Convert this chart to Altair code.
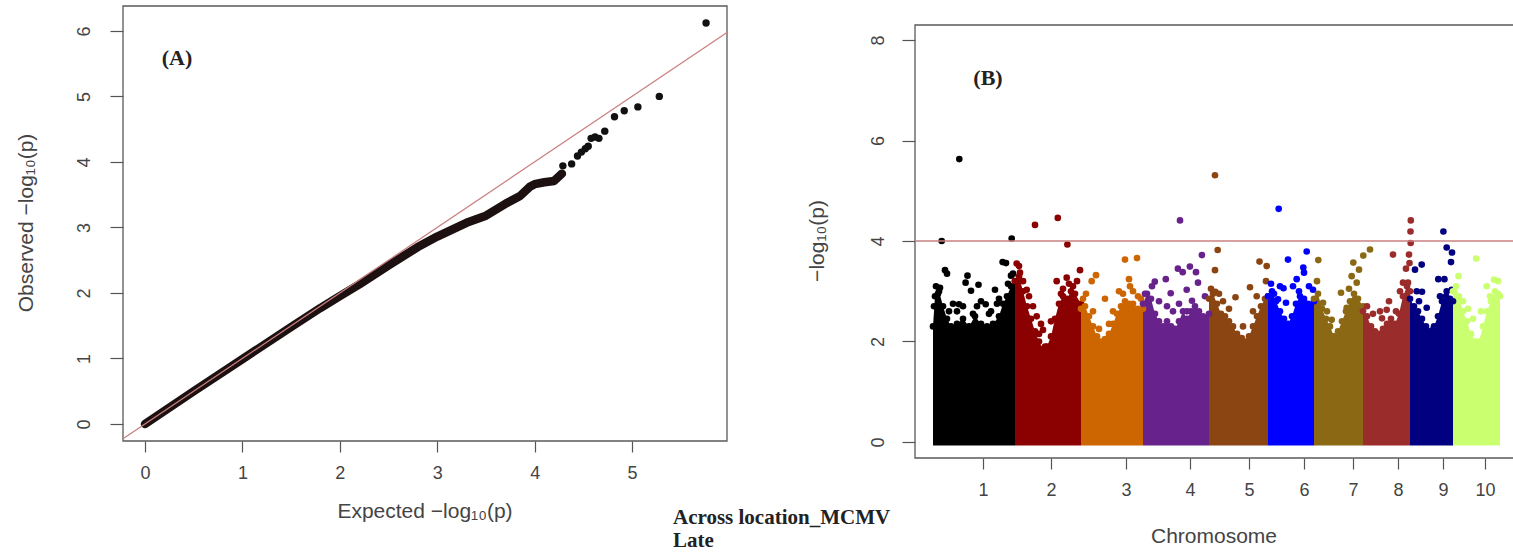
import altair as alt
import pandas as pd

# ---------------- QQ plot (A) ----------------
qq_band_expected = [0, 0.5, 1.0, 1.5, 1.8, 2.0, 2.2, 2.5, 2.8, 3.0, 3.3, 3.5, 3.7, 3.85, 3.95, 4.0, 4.1, 4.2, 4.28]
qq_band_observed = [0, 0.5, 0.99, 1.48, 1.77, 1.95, 2.13, 2.42, 2.7, 2.86, 3.07, 3.18, 3.36, 3.48, 3.62, 3.66, 3.69, 3.71, 3.82]
qq_tail_expected = [4.29, 4.38, 4.44, 4.48, 4.52, 4.55, 4.58, 4.62, 4.66, 4.72, 4.82, 4.92, 5.06, 5.28, 5.76]
qq_tail_observed = [3.94, 3.97, 4.09, 4.15, 4.2, 4.24, 4.36, 4.38, 4.36, 4.47, 4.69, 4.78, 4.84, 5.00, 6.12]
qq_x_ticks = [0, 1, 2, 3, 4, 5]
qq_y_ticks = [0, 1, 2, 3, 4, 5, 6]

# ---------------- Manhattan plot (B) ----------------
chrom_names = ['1', '2', '3', '4', '5', '6', '7', '8', '9', '10']
chrom_colors = ['#000000', '#8B0000', '#CD6600', '#68228B', '#8B4513',
                '#0000FF', '#8B6914', '#9B2C2C', '#000080', '#CAFF70']
chrom_ticks = [50, 118, 193, 257, 316, 371, 420, 465, 510, 552]
mh_y_ticks = [0, 2, 4, 6, 8]
threshold = 4.0

chr1_profile = [(0, 2.3), (2, 2.9), (6, 3.0), (10, 2.7), (14, 2.45), (18, 2.3), (24, 2.35), (30, 2.45), (36, 2.3),
                (42, 2.5), (48, 2.35), (54, 2.3), (60, 2.35), (66, 2.5), (70, 2.75), (74, 2.9), (78, 3.1), (82, 3.2)]
chr1_hits = [(8.7, 4.0), (26.3, 5.63), (78.7, 4.05), (12, 3.42), (14, 3.35), (34.5, 3.31), (32.6, 3.17), (45.5, 3.13),
             (38, 3.01), (52.7, 2.74), (69.6, 3.58), (73, 3.56), (78, 3.31), (62, 3.03), (26, 2.74), (24, 2.6), (7, 3.07),
             (5, 2.95), (20, 2.75), (56, 2.55), (64, 2.75), (80, 3.35), (3, 3.1), (44, 2.7), (58, 2.6),
             (16, 2.6), (30, 2.7), (40, 2.55), (48, 2.8), (66, 2.85), (75, 3.15), (1, 2.7)]
chr2_profile = [(82, 3.2), (86, 3.3), (90, 3.0), (94, 2.7), (98, 2.45), (102, 2.2), (106, 2.0), (110, 1.85), (114, 1.9),
                (118, 2.1), (122, 2.45), (126, 2.75), (130, 2.9), (134, 2.85), (138, 3.0), (142, 2.95), (148, 2.75)]
chr2_hits = [(102, 4.32), (124.8, 4.46), (134.4, 3.93), (83.7, 3.55), (86, 3.5), (87, 3.37), (93.7, 3.03), (96, 2.9),
             (100, 2.7), (103.7, 2.5), (110, 2.23), (112, 1.9), (120, 1.77), (116, 1.65), (123.7, 3.2), (133.7, 3.27),
             (140, 3.1), (147, 3.42), (128, 2.95), (136, 3.15), (108, 2.35), (118, 2.4), (90, 3.2), (106, 2.15),
             (130, 3.05), (144, 3.2)]
chr3_profile = [(148, 2.65), (152, 2.7), (156, 2.5), (160, 2.3), (164, 2.1), (168, 2.0), (172, 2.05), (176, 2.15),
                (180, 2.35), (184, 2.55), (188, 2.7), (192, 2.8), (196, 2.75), (200, 2.75), (205, 2.65), (210, 2.65)]
chr3_hits = [(163, 3.32), (172, 2.85), (192, 3.63), (204, 3.66), (196, 3.24), (197, 3.1), (168, 1.93), (170, 1.47),
             (180, 2.6), (158.7, 3.2), (186, 3.0), (200, 3.0), (205, 2.9), (153, 2.95), (176, 2.35), (160, 2.6),
             (150, 2.85), (166, 2.25), (190, 2.95), (208, 2.85)]
chr4_profile = [(210, 2.75), (214, 2.95), (218, 2.85), (222, 2.55), (226, 2.4), (230, 2.3), (234, 2.4), (238, 2.3),
                (242, 2.25), (246, 2.4), (250, 2.6), (254, 2.45), (258, 2.6), (262, 2.7), (266, 2.6), (270, 2.5), (276, 2.55)]
chr4_hits = [(247, 4.41), (268.9, 3.72), (221.8, 3.19), (232.8, 3.24), (244.9, 3.45), (249.7, 3.38), (256.9, 3.49),
             (263, 3.38), (265, 3.17), (237.7, 2.96), (240, 2.6), (259, 2.81), (254, 2.6), (239, 1.75), (240, 1.6),
             (228, 1.97), (219, 3.1), (253.7, 3.03), (226, 2.8), (272, 2.9), (212, 2.95), (234, 2.7), (246, 2.75)]
chr5_profile = [(276, 2.85), (280, 2.95), (284, 2.75), (288, 2.55), (292, 2.5), (296, 2.4), (300, 2.3), (304, 2.15),
                (308, 2.05), (312, 2.0), (316, 2.1), (320, 2.3), (324, 2.5), (328, 2.7), (332, 2.85), (335, 2.9)]
chr5_hits = [(282, 5.31), (284.7, 3.82), (282, 3.42), (282.3, 2.99), (302.5, 2.88), (317, 3.08), (326.5, 3.59),
             (333.7, 3.5), (314.5, 1.47), (308.7, 2.07), (323.7, 2.9), (333, 3.2), (290, 2.8), (296, 2.65), (310, 2.3),
             (278, 3.05), (286, 2.95), (320, 2.6)]
chr6_profile = [(335, 2.9), (339, 3.0), (343, 2.8), (347, 2.6), (351, 2.45), (355, 2.35), (359, 2.5), (363, 2.75),
                (367, 2.9), (371, 2.85), (375, 2.75), (381, 2.8)]
chr6_hits = [(345.7, 4.64), (355, 3.63), (373.7, 3.79), (370.3, 3.47), (371, 3.37), (363.7, 3.24), (360, 3.1),
             (347, 3.1), (350.5, 3.06), (380, 3.03), (353, 2.77), (355, 2.04), (345, 2.84), (338, 3.15), (376, 3.1),
             (366, 3.0), (341, 2.95)]
chr7_profile = [(381, 2.85), (385, 2.95), (389, 2.65), (393, 2.45), (397, 2.3), (401, 2.1), (405, 2.2), (409, 2.4),
                (413, 2.6), (417, 2.8), (421, 2.95), (425, 2.85), (430, 2.7)]
chr7_hits = [(385.3, 3.62), (420.3, 3.57), (430.3, 3.71), (437, 3.83), (418.7, 3.3), (423.7, 3.17), (408, 2.97),
             (413.7, 2.67), (390, 2.77), (398.7, 2.43), (400, 2.1), (400, 1.77), (398.5, 1.6), (384, 3.2), (426, 3.43),
             (394, 2.6), (416, 3.05)]
chr8_profile = [(430, 2.6), (434, 2.5), (438, 2.3), (442, 2.2), (446, 2.15), (450, 2.25), (454, 2.35), (458, 2.45),
                (462, 2.35), (466, 2.55), (470, 2.9), (474, 3.1), (477, 3.0)]
chr8_hits = [(477.8, 4.41), (477.5, 4.19), (477.7, 3.96), (476, 3.73), (476.5, 3.56), (473, 3.45), (475, 3.17),
             (460, 3.73), (447, 2.6), (453.7, 2.63), (467, 3.0), (470, 3.17), (449, 2.46), (440, 2.55), (456, 2.8),
             (434, 2.7), (463, 2.6)]
chr9_profile = [(477, 2.85), (481, 2.7), (485, 2.6), (489, 2.45), (493, 2.3), (497, 2.2), (501, 2.3), (505, 2.5),
                (509, 2.8), (513, 2.9), (517, 2.85), (520, 2.8)]
chr9_hits = [(510.4, 4.19), (513.7, 3.87), (519, 3.77), (518, 3.58), (488.7, 3.53), (482, 3.43), (505.3, 3.24),
             (511.4, 3.24), (518.7, 3.03), (513.7, 3.0), (483.7, 3.0), (489, 2.99), (493.7, 2.67), (500, 2.23),
             (499.4, 2.04), (486, 2.8), (507, 2.9)]
chr10_profile = [(520, 3.0), (523, 3.1), (526, 2.9), (530, 2.6), (534, 2.4), (538, 2.15), (542, 2.0), (546, 2.0),
                 (550, 2.3), (554, 2.6), (558, 2.8), (562, 3.0), (565, 2.95), (567, 2.9)]
chr10_hits = [(543.2, 3.65), (561, 3.23), (525.5, 3.3), (553.7, 3.1), (557, 2.9), (565, 3.2), (530, 2.8),
              (548, 2.6), (540, 2.45), (535, 2.65)]

profiles = [chr1_profile, chr2_profile, chr3_profile, chr4_profile, chr5_profile,
            chr6_profile, chr7_profile, chr8_profile, chr9_profile, chr10_profile]
hits = [chr1_hits, chr2_hits, chr3_hits, chr4_hits, chr5_hits,
        chr6_hits, chr7_hits, chr8_hits, chr9_hits, chr10_hits]

# texts
label_a = "(A)"
label_b = "(B)"
qq_xtitle = "Expected  \u2212log\u2081\u2080(p)"
qq_ytitle = "Observed  \u2212log\u2081\u2080(p)"
mh_xtitle = "Chromosome"
mh_ytitle = "\u2212log\u2081\u2080(p)"
caption1 = "Across location_MCMV"
caption2 = "Late"

# ---------------- scales (domain -> pixel range) ----------------
QQ_X = alt.Scale(domain=[-0.226, 5.975], range=[123, 727], nice=False, zero=False)
QQ_Y = alt.Scale(domain=[-0.26, 6.38], range=[441, 6], nice=False, zero=False)
MH_X = alt.Scale(domain=[-18, 580], range=[915, 1513], nice=False, zero=False)
MH_Y = alt.Scale(domain=[-0.32, 8.30], range=[458, 25], nice=False, zero=False)

# ---------------- data frames ----------------
qq_frame = pd.DataFrame({'x0': [-0.226], 'x1': [5.975], 'y0': [-0.26], 'y1': [6.38]})
qq_diag = pd.DataFrame({'x': [-0.226, 5.975], 'y': [-0.226, 5.975]})
qq_band = pd.DataFrame({'x': qq_band_expected, 'y': qq_band_observed})
qq_tail = pd.DataFrame({'x': qq_tail_expected, 'y': qq_tail_observed})

area_rows, pt_rows = [], []
for name, prof, hh in zip(chrom_names, profiles, hits):
    for p, t in prof:
        area_rows.append({'chr': name, 'pos': p, 'top': t})
        pt_rows.append({'chr': name, 'pos': p, 'val': t})
    for p, v in hh:
        pt_rows.append({'chr': name, 'pos': p, 'val': v})
mh_area = pd.DataFrame(area_rows)
mh_pts = pd.DataFrame(pt_rows)
mh_frame = pd.DataFrame({'x0': [-18], 'x1': [590], 'y0': [-0.32], 'y1': [8.30]})
mh_thr = pd.DataFrame({'x0': [-18], 'x1': [590], 'y': [threshold]})

color = alt.Color('chr:N', scale=alt.Scale(domain=chrom_names, range=chrom_colors), legend=None)

label_expr = "[" + ",".join("'%s'" % c for c in chrom_names) + "][indexof([" + \
    ",".join(str(t) for t in chrom_ticks) + "], datum.value)]"

qq_x_axis = alt.Axis(orient='bottom', offset=-115, values=qq_x_ticks, format='d', title=None,
                     tickSize=11, labelPadding=12)
qq_y_axis = alt.Axis(orient='left', offset=-123, values=qq_y_ticks, format='d', title=None,
                     tickSize=13, labelAngle=270, labelAlign='center', labelBaseline='bottom', labelPadding=17)
mh_x_axis = alt.Axis(orient='bottom', offset=-98, values=chrom_ticks, labelExpr=label_expr, title=None,
                     tickSize=11, labelPadding=12)
mh_y_axis = alt.Axis(orient='left', offset=-915, values=mh_y_ticks, format='d', title=None,
                     tickSize=13, labelAngle=270, labelAlign='center', labelBaseline='bottom', labelPadding=15)

FRAME = '#5a5a5a'
LINE_RED = '#c98080'

layers = []
# QQ frame with axes
layers.append(alt.Chart(qq_frame).mark_rect(fill='transparent', stroke=FRAME, strokeWidth=1.3).encode(
    x=alt.X('x0:Q', scale=QQ_X, axis=qq_x_axis), x2='x1:Q',
    y=alt.Y('y0:Q', scale=QQ_Y, axis=qq_y_axis), y2='y1:Q'))
layers.append(alt.Chart(qq_band).mark_line(color='#1c1010', strokeWidth=8.5, strokeCap='round', strokeJoin='round').encode(
    x=alt.X('x:Q', scale=QQ_X, axis=None), y=alt.Y('y:Q', scale=QQ_Y, axis=None)))
layers.append(alt.Chart(qq_tail).mark_circle(color='#111111', size=55, opacity=1).encode(
    x=alt.X('x:Q', scale=QQ_X, axis=None), y=alt.Y('y:Q', scale=QQ_Y, axis=None)))
layers.append(alt.Chart(qq_diag).mark_line(color=LINE_RED, strokeWidth=1.3).encode(
    x=alt.X('x:Q', scale=QQ_X, axis=None), y=alt.Y('y:Q', scale=QQ_Y, axis=None)))

# Manhattan
layers.append(alt.Chart(mh_frame).mark_rect(fill='transparent', stroke=FRAME, strokeWidth=1.3).encode(
    x=alt.X('x0:Q', scale=MH_X, axis=mh_x_axis), x2='x1:Q',
    y=alt.Y('y0:Q', scale=MH_Y, axis=mh_y_axis), y2='y1:Q'))
layers.append(alt.Chart(mh_area).mark_area(opacity=1, interpolate='linear').encode(
    x=alt.X('pos:Q', scale=MH_X, axis=None), y=alt.Y('top:Q', scale=MH_Y, axis=None),
    y2=alt.datum(-0.07), color=color, detail='chr:N'))
layers.append(alt.Chart(mh_pts).mark_circle(size=44, opacity=1).encode(
    x=alt.X('pos:Q', scale=MH_X, axis=None), y=alt.Y('val:Q', scale=MH_Y, axis=None), color=color))
layers.append(alt.Chart(mh_thr).mark_rule(color=LINE_RED, strokeWidth=1.5).encode(
    x=alt.X('x0:Q', scale=MH_X, axis=None), x2='x1:Q', y=alt.Y('y:Q', scale=MH_Y, axis=None)))


def txt(s, x, y, size, font='Liberation Sans', weight='normal', angle=0, align='center', col='#444444'):
    return alt.Chart(pd.DataFrame({'t': [s]})).mark_text(
        font=font, fontSize=size, fontWeight=weight, angle=angle, align=align,
        baseline='middle', color=col).encode(x=alt.value(x), y=alt.value(y), text='t:N')


layers += [
    txt(qq_xtitle, 425, 512, 21),
    txt(qq_ytitle, 27, 223, 21, angle=270),
    txt(mh_xtitle, 1214, 537, 21),
    txt(mh_ytitle, 818, 241, 21, angle=270),
    txt(label_a, 177, 58, 22, font='Liberation Serif', weight='bold', col='#222222'),
    txt(label_b, 988, 78, 22, font='Liberation Serif', weight='bold', col='#222222'),
    txt(caption1, 673, 518, 21, font='Liberation Serif', weight='bold', align='left', col='#222222'),
    txt(caption2, 673, 541, 21, font='Liberation Serif', weight='bold', align='left', col='#222222'),
]

chart = alt.layer(*layers).resolve_scale(x='independent', y='independent').properties(
    width=1513, height=556, autosize=alt.AutoSizeParams(type='none'), padding=0
).configure_view(strokeWidth=0).configure_axis(
    grid=False, domain=False, labelFont='Liberation Sans', labelFontSize=18, labelColor='#444444',
    tickColor='#555555', tickWidth=1.2, labelFlush=False, labelOverlap=False
)

chart.save("out.html", embed_options={"renderer": "svg", "actions": False})
